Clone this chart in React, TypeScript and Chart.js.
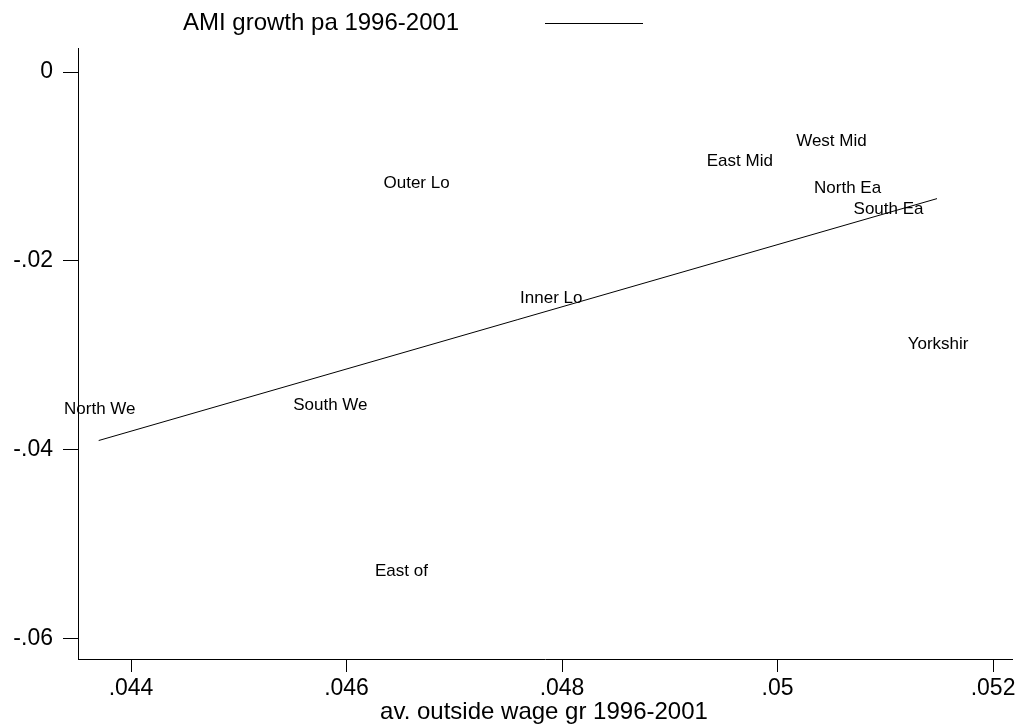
import React, { useEffect, useRef } from 'react';
import { Chart, registerables } from 'chart.js';

Chart.register(...registerables);

// ---- data ----
const regionLabels = ['North We', 'South We', 'East of', 'Outer Lo', 'Inner Lo', 'East Mid', 'West Mid', 'North Ea', 'South Ea', 'Yorkshir'];
const wageGrowth = [0.04371, 0.04585, 0.04651, 0.04665, 0.0479, 0.04965, 0.0505, 0.05065, 0.05103, 0.05149];
const amiGrowth = [-0.0356, -0.0351, -0.0527, -0.0116, -0.0238, -0.0093, -0.0072, -0.0122, -0.0144, -0.0287];
const fitX = [0.0437, 0.05148];
const fitY = [-0.039, -0.0134];
const xTickValues = [0.044, 0.046, 0.048, 0.05, 0.052];
const xTickLabels = ['.044', '.046', '.048', '.05', '.052'];
const yTickValues = [-0.06, -0.04, -0.02, 0];
const yTickLabels = ['-.06', '-.04', '-.02', '0'];
const legendLabel = 'AMI growth pa 1996-2001';
const xAxisTitle = 'av. outside wage gr 1996-2001';

const FONT = '"Liberation Sans", Arial, sans-serif';

const labelFor = (vals: number[], labs: string[], v: number) => {
  const i = vals.findIndex((t) => Math.abs(t - v) < 1e-9);
  return i >= 0 ? labs[i] : '';
};

const textPlugin = {
  id: 'stataText',
  afterDatasetsDraw(chart: any) {
    const ctx = chart.ctx as CanvasRenderingContext2D;
    const xs = chart.scales.x;
    const ys = chart.scales.y;
    ctx.save();
    ctx.fillStyle = '#000';
    ctx.font = `17px ${FONT}`;
    ctx.textAlign = 'center';
    ctx.textBaseline = 'alphabetic';
    regionLabels.forEach((lab, i) => {
      const px = xs.getPixelForValue(wageGrowth[i]);
      const py = ys.getPixelForValue(amiGrowth[i]);
      ctx.fillText(lab, px, py + 6);
    });
    // legend
    ctx.font = `24px ${FONT}`;
    ctx.textAlign = 'left';
    ctx.fillText(legendLabel, 183, 30);
    ctx.strokeStyle = '#000';
    ctx.lineWidth = 1;
    ctx.beginPath();
    ctx.moveTo(545, 23.5);
    ctx.lineTo(643, 23.5);
    ctx.stroke();
    // x axis title
    ctx.textAlign = 'center';
    ctx.fillText(xAxisTitle, 544, 719);
    ctx.restore();
  },
};

export default function App() {
  const ref = useRef<HTMLCanvasElement | null>(null);

  useEffect(() => {
    if (!ref.current) return;
    const chart = new Chart(ref.current, {
      type: 'scatter',
      data: {
        datasets: [
          {
            label: 'regions',
            data: wageGrowth.map((x, i) => ({ x, y: amiGrowth[i] })),
            pointRadius: 0,
            pointHoverRadius: 0,
            showLine: false,
          },
          {
            label: legendLabel,
            data: fitX.map((x, i) => ({ x, y: fitY[i] })),
            showLine: true,
            borderColor: '#000',
            borderWidth: 1,
            pointRadius: 0,
            pointHoverRadius: 0,
            fill: false,
          },
        ],
      },
      options: {
        responsive: false,
        animation: false,
        events: [],
        layout: { padding: { top: 48, right: 7, left: 0, bottom: 0 } },
        plugins: {
          legend: { display: false },
          title: { display: false },
          tooltip: { enabled: false },
        },
        scales: {
          x: {
            type: 'linear',
            min: 0.043508,
            max: 0.052176,
            afterBuildTicks: (s: any) => {
              s.ticks = xTickValues.map((v) => ({ value: v }));
            },
            afterFit: (s: any) => {
              s.height = 68;
              s.paddingLeft = 0;
              s.paddingRight = 0;
            },
            grid: { display: true, drawOnChartArea: false, drawTicks: true, tickLength: 13, color: '#000', lineWidth: 1 },
            border: { display: true, color: '#000', width: 1 },
            ticks: {
              color: '#000',
              font: { family: FONT, size: 23 },
              padding: 3,
              maxRotation: 0,
              autoSkip: false,
              callback: (v: any) => labelFor(xTickValues, xTickLabels, Number(v)),
            },
          },
          y: {
            type: 'linear',
            min: -0.06212,
            max: 0.00254,
            afterBuildTicks: (s: any) => {
              s.ticks = yTickValues.map((v) => ({ value: v }));
            },
            afterFit: (s: any) => {
              s.width = 78;
              s.paddingTop = 0;
              s.paddingBottom = 0;
            },
            grid: { display: true, drawOnChartArea: false, drawTicks: true, tickLength: 15, color: '#000', lineWidth: 1 },
            border: { display: true, color: '#000', width: 1 },
            ticks: {
              color: '#000',
              font: { family: FONT, size: 23 },
              padding: 10,
              autoSkip: false,
              callback: (v: any) => labelFor(yTickValues, yTickLabels, Number(v)),
            },
          },
        },
      },
      plugins: [textPlugin],
    } as any);
    return () => chart.destroy();
  }, []);

  return (
    <div style={{ position: 'absolute', left: 0, top: 0, width: 1019, height: 727, background: '#fff' }}>
      <canvas ref={ref} width={1019} height={727} style={{ display: 'block' }} />
    </div>
  );
}
